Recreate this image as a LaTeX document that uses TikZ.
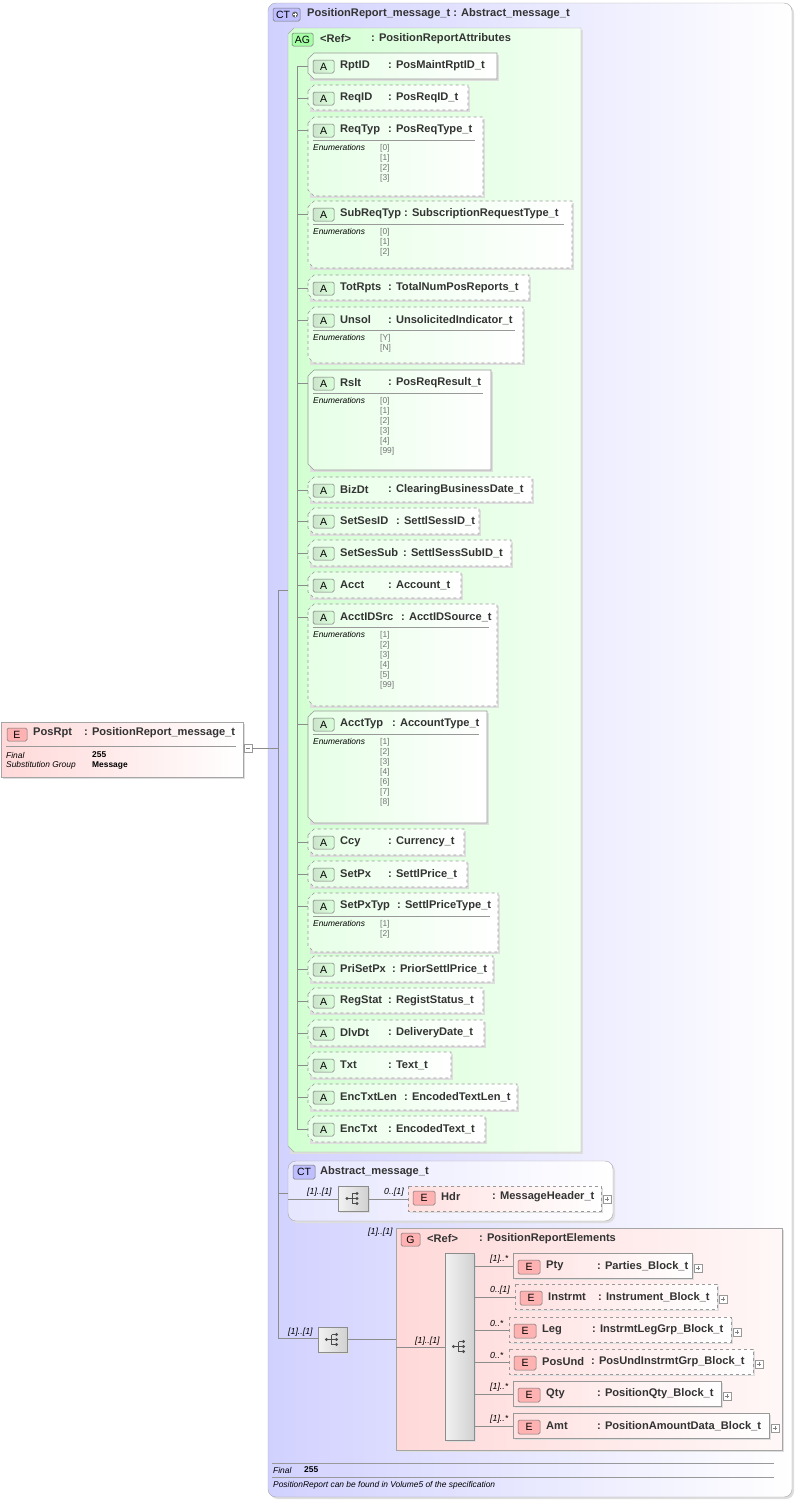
\documentclass[tikz,border=0pt]{standalone}
\usepackage{fontspec}
\setmainfont{Liberation Sans}
\begin{document}
\begin{tikzpicture}[x=1pt,y=-1pt,
 lab/.style={font=\fontsize{11.1}{13}\selectfont\bfseries, text=black!80, anchor=west, inner sep=0pt},
 sm/.style={font=\fontsize{8.4}{10}\selectfont, anchor=west, inner sep=0pt},
 smb/.style={font=\fontsize{8.4}{10}\selectfont\bfseries, anchor=west, inner sep=0pt},
 smi/.style={font=\fontsize{8.4}{10}\selectfont\itshape, anchor=west, inner sep=0pt},
 mul/.style={font=\fontsize{8.8}{10}\selectfont\itshape, anchor=west, inner sep=0pt},
 ln/.style={draw=black!45, line width=0.5pt},
 shad/.style={fill=black!13},
 badge/.style={draw=black!55, rounded corners=1.5pt, line width=0.5pt},
 bt/.style={font=\fontsize{10.5}{11}\selectfont, inner sep=0pt}]
\useasboundingbox (0,0) rectangle (797,1500);
\def\seqbox#1#2#3#4{% left top right bottom
 \fill[shad] (#1+2,#2+2) rectangle (#3+2,#4+2);
 \draw[ln, left color=black!5, right color=black!18] (#1,#2) rectangle (#3,#4);
 \pgfmathsetmacro\cx{(#1+#3)/2}\pgfmathsetmacro\cy{(#2+#4)/2}
 \fill[black!70] (\cx-6,\cy) circle (1.6);
 \draw[black!70,line width=0.7pt] (\cx-6,\cy) -- (\cx-1,\cy) (\cx-1,\cy-5) -- (\cx-1,\cy+5) (\cx-1,\cy-5) -- (\cx+4,\cy-5) (\cx-1,\cy+5) -- (\cx+4,\cy+5) (\cx-1,\cy) -- (\cx+4,\cy);
 \fill[black!70] (\cx+4,\cy-5) circle (1.6) (\cx+4,\cy) circle (1.6) (\cx+4,\cy+5) circle (1.6);}
\def\attrbox#1#2#3#4#5#6#7{% top bottom right style name type colonx
 \fill[shad] (310,#1+2) rectangle (#3+2,#2+2);
 \draw[#4, draw=black!40, line width=0.6pt, left color=green!10, right color=white] (308,#1+6) -- (314,#1) -- (#3,#1) -- (#3,#2) -- (314,#2) -- (308,#2-6) -- cycle;
 \draw[badge, left color=green!45!black!20, right color=green!15] (313,#1+7) rectangle (334,#1+20);
 \node[bt] at (323.5,#1+13.5) {A};
 \node[lab] at (340,#1+13) {#5};
 \node[lab] at (#7,#1+13) {: #6};
 \draw[ln] (297,#1+13) -- (308,#1+13);}
\def\enums#1#2#3{%
 \draw[black!40] (313,#1+23) -- (#2-8,#1+23);
 \node[smi] at (313,#1+30) {Enumerations};
 \foreach[count=\i] \v in {#3} \node[sm, text=black!55] at (380,{#1+21+\i*10}) {[\v]};}
\def\elem#1#2#3#4#5#6#7#8{% top left right style mult name type colonx
 \fill[shad] (#2+2,#1+2) rectangle (#3+2,#1+27);
 \draw[#4, draw=black!40, line width=0.6pt, left color=red!12, right color=white] (#2,#1) rectangle (#3,#1+25);
 \draw[badge, fill=red!30] (#2+5,#1+7) rectangle (#2+27,#1+21);
 \node[bt] at (#2+16,#1+14) {E};
 \node[lab] at (#2+33,#1+13) {#6};
 \node[lab] at (#8,#1+13) {: #7};
 \draw[draw=black!40, fill=white] (#3+2,#1+11) rectangle (#3+10,#1+19);
 \draw[black!50] (#3+4,#1+15) -- (#3+8,#1+15) (#3+6,#1+13) -- (#3+6,#1+17);
 \draw[ln] (474,#1+13) -- (#2,#1+13);
 \node[mul] at (490,#1+6) {#5};}
% outer CT
\fill[shad] (270,5) [rounded corners=8pt] rectangle (794,1499);
\draw[draw=black!35, left color=blue!18, right color=white, rounded corners=8pt] (268,3) rectangle (792,1497);
\draw[badge, fill=blue!25] (273,8) rectangle (300,21);
\node[bt] (ct1) at (283,14.5) {CT};
\fill[black!60] (295,14.5) circle (3);
\draw[white, line width=0.8pt] (293,14.5) -- (297,14.5) (295,12.5) -- (295,16.5);
\node[lab] (title) at (307,14) {PositionReport\_message\_t : Abstract\_message\_t};
% AG
\fill[shad] (290,30) rectangle (583,1154);
\draw[draw=black!35, left color=green!18, right color=green!5] (288,34) -- (294,28) -- (581,28) -- (581,1152) -- (294,1152) -- (288,1146) -- cycle;
\draw[badge, fill=green!35] (292,33) rectangle (313,46);
\node[bt] at (302.5,39.5) {AG};
\node[lab] at (320,39) {<Ref>};
\node[lab] at (371,39) {: PositionReportAttributes};
\draw[ln] (297,66) -- (297,1129);
\attrbox{53}{79}{497}{solid}{RptID}{PosMaintRptID\_t}{388}
\attrbox{85}{110}{468}{dashed}{ReqID}{PosReqID\_t}{388}
\attrbox{117}{196}{483}{dashed}{ReqTyp}{PosReqType\_t}{388}\enums{117}{483}{0,1,2,3}
\attrbox{201}{268}{572}{dashed}{SubReqTyp}{SubscriptionRequestType\_t}{404}\enums{201}{572}{0,1,2}
\attrbox{275}{300}{529}{dashed}{TotRpts}{TotalNumPosReports\_t}{388}
\attrbox{307}{363}{523}{dashed}{Unsol}{UnsolicitedIndicator\_t}{388}\enums{307}{523}{Y,N}
\attrbox{370}{470}{491}{solid}{Rslt}{PosReqResult\_t}{388}\enums{370}{491}{0,1,2,3,4,99}
\attrbox{477}{502}{532}{dashed}{BizDt}{ClearingBusinessDate\_t}{388}
\attrbox{508}{534}{479}{dashed}{SetSesID}{SettlSessID\_t}{396}
\attrbox{540}{566}{511}{dashed}{SetSesSub}{SettlSessSubID\_t}{403}
\attrbox{572}{598}{461}{dashed}{Acct}{Account\_t}{388}
\attrbox{604}{706}{497}{dashed}{AcctIDSrc}{AcctIDSource\_t}{401}\enums{604}{497}{1,2,3,4,5,99}
\attrbox{711}{823}{487}{solid}{AcctTyp}{AccountType\_t}{392}\enums{711}{487}{1,2,3,4,6,7,8}
\attrbox{829}{855}{464}{dashed}{Ccy}{Currency\_t}{388}
\attrbox{861}{887}{467}{dashed}{SetPx}{SettlPrice\_t}{388}
\attrbox{893}{952}{498}{dashed}{SetPxTyp}{SettlPriceType\_t}{397}\enums{893}{498}{1,2}
\attrbox{956}{982}{493}{dashed}{PriSetPx}{PriorSettlPrice\_t}{392}
\attrbox{988}{1013}{483}{dashed}{RegStat}{RegistStatus\_t}{388}
\attrbox{1020}{1046}{484}{dashed}{DlvDt}{DeliveryDate\_t}{388}
\attrbox{1052}{1078}{451}{dashed}{Txt}{Text\_t}{388}
\attrbox{1084}{1110}{517}{dashed}{EncTxtLen}{EncodedTextLen\_t}{404}
\attrbox{1116}{1142}{485}{dashed}{EncTxt}{EncodedText\_t}{388}
% PosRpt
\fill[shad] (3,724) rectangle (245,779);
\draw[draw=black!35, left color=red!15, right color=white] (1,722) rectangle (243,777);
\draw[badge, fill=red!30] (7,728) rectangle (27,741);
\node[bt] at (17,734.5) {E};
\node[lab] (posrpt) at (33,733) {PosRpt};
\node[lab] at (84,733) {: PositionReport\_message\_t};
\draw[black!40] (6,746) -- (236,746);
\node[smi] at (6,755) {Final};
\node[smb] at (92,755) {255};
\node[smi] at (6,765) {Substitution Group};
\node[smb] at (92,765) {Message};
\draw[draw=black!40, fill=white] (244,744) rectangle (252,752);
\draw[black!50] (246,748) -- (250,748);
\draw[ln] (252,748) -- (278,748);
\draw[ln] (278,590) -- (278,1338);
\draw[ln] (278,590) -- (288,590);
% Abstract_message_t
\fill[shad] (290,1163) [rounded corners=8pt] rectangle (615,1223);
\draw[draw=black!35, left color=blue!10, right color=white, rounded corners=8pt] (288,1161) rectangle (613,1221);
\draw[badge, fill=blue!25] (293,1165) rectangle (315,1179);
\node[bt] at (304,1172) {CT};
\node[lab] at (320,1172) {Abstract\_message\_t};
\draw[ln] (278,1193) -- (288,1193);
\draw[ln] (288,1199) -- (338,1199);
\node[mul] at (307,1192) {[1]..[1]};
\seqbox{338}{1186}{368}{1211}
\draw[ln] (368,1199) -- (408,1199);
\node[mul] at (384,1192) {0..[1]};
\fill[shad] (410,1188) rectangle (603,1213);
\draw[dashed, draw=black!40, line width=0.6pt, left color=red!12, right color=white] (408,1186) rectangle (601,1211);
\draw[badge, fill=red!30] (413,1191) rectangle (435,1205);
\node[bt] at (424,1198) {E};
\node[lab] at (441,1197) {Hdr};
\node[lab] at (492,1197) {: MessageHeader\_t};
\draw[draw=black!40, fill=white] (603,1195) rectangle (611,1203);
\draw[black!50] (605,1199) -- (609,1199) (607,1197) -- (607,1201);
% main sequence
\draw[ln] (278,1338) -- (318,1338);
\node[mul] at (288,1332) {[1]..[1]};
\seqbox{318}{1327}{347}{1352}
\draw[ln] (347,1339) -- (396,1339);
% G
\node[mul] at (368,1232) {[1]..[1]};
\fill[shad] (398,1230) rectangle (784,1452);
\draw[draw=black!35, left color=red!15, right color=red!3] (396,1228) rectangle (782,1450);
\draw[badge, fill=red!30] (401,1233) rectangle (420,1246);
\node[bt] at (410.5,1239.5) {G};
\node[lab] at (427,1239) {<Ref>};
\node[lab] at (479,1239) {: PositionReportElements};
\draw[ln] (396,1347) -- (445,1347);
\node[mul] at (415,1341) {[1]..[1]};
\seqbox{445}{1253}{474}{1440}
\elem{1253}{513}{692}{solid}{[1]..*}{Pty}{Parties\_Block\_t}{597}
\elem{1284}{515}{717}{dashed}{0..[1]}{Instrmt}{Instrument\_Block\_t}{598}
\elem{1317}{509}{731}{dashed}{0..*}{Leg}{InstrmtLegGrp\_Block\_t}{592}
\elem{1349}{509}{753}{dashed}{0..*}{PosUnd}{PosUndInstrmtGrp\_Block\_t}{591}
\elem{1381}{513}{721}{solid}{[1]..*}{Qty}{PositionQty\_Block\_t}{597}
\elem{1413}{513}{769}{solid}{[1]..*}{Amt}{PositionAmountData\_Block\_t}{597}
% footer
\draw[black!40] (272,1463) -- (774,1463);
\node[smi] at (273,1470) {Final};
\node[smb] at (304,1470) {255};
\draw[black!40] (272,1477) -- (774,1477);
\node[smi] at (273,1485) {PositionReport can be found in Volume5 of the specification};
\end{tikzpicture}
\end{document}
